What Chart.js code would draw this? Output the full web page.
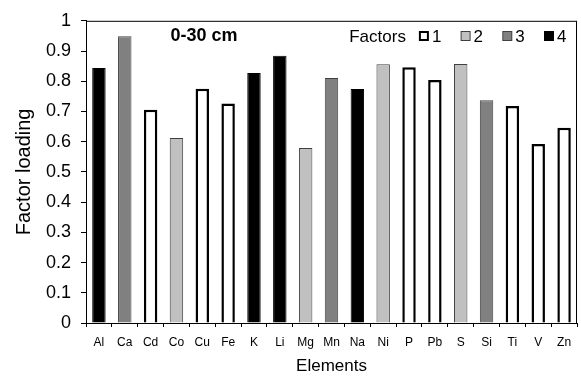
<!DOCTYPE html>
<html>
<head>
<meta charset="utf-8">
<script src="https://cdn.jsdelivr.net/npm/chart.js@4"></script>
<style>
  html, body { margin: 0; padding: 0; background: #fff; }
  #wrap { width: 581px; height: 382px; }
</style>
</head>
<body>
<div id="wrap"><canvas id="loadingChart"></canvas></div>
<script>
const elements = ['Al','Ca','Cd','Co','Cu','Fe','K','Li','Mg','Mn','Na','Ni','P','Pb','S','Si','Ti','V','Zn'];
const loadings = [0.844,0.949,0.706,0.612,0.775,0.726,0.827,0.884,0.579,0.811,0.774,0.856,0.846,0.804,0.857,0.737,0.718,0.592,0.646];
const factors  = [4,3,1,2,1,1,4,4,2,3,4,2,1,1,2,3,1,1,1];
const factorNames = ['1','2','3','4'];
const fills   = ['#ffffff','#c0c0c0','#808080','#000000'];
const borders = ['#000000','#404040','#404040','#000000'];
const widths  = [2.5,1,1,1];

Chart.defaults.font.family = '"Liberation Sans", Arial, sans-serif';
Chart.defaults.color = '#000';

// one dataset per factor, each element only filled in its own factor
const datasets = factorNames.map((name, k) => ({
    label: name,
    data: loadings.map((v, i) => factors[i] === k + 1 ? v : null),
    backgroundColor: fills[k],
    borderColor: borders[k],
    borderWidth: widths[k],
    barPercentage: 0.52,
    categoryPercentage: 1
}));

// frame, depth label and the inline "Factors" legend inside the plot
const frame = {
    id: 'frame',
    afterDraw(chart) {
        const {ctx, chartArea: a} = chart;
        ctx.save();
        ctx.strokeStyle = '#000';
        ctx.lineWidth = 1;
        ctx.strokeRect(a.left + 0.5, a.top + 0.5, a.right - a.left - 1, a.bottom - a.top);

        ctx.fillStyle = '#000';
        ctx.font = 'bold 18px "Liberation Sans", Arial';
        ctx.textAlign = 'center';
        ctx.textBaseline = 'middle';
        ctx.fillText('0-30 cm', 204, 36);

        ctx.font = '17px "Liberation Sans", Arial';
        const step = 41.7;
        const y = 36;
        const first = a.right - 33 - step * (chart.data.datasets.length - 1);
        chart.data.datasets.forEach((ds, k) => {
            const x = first + step * k;
            const bw = ds.borderWidth > 1 ? 2 : 1;
            ctx.fillStyle = ds.borderColor;
            ctx.fillRect(x, y - 5, 10, 10);
            ctx.fillStyle = ds.backgroundColor;
            ctx.fillRect(x + bw, y - 5 + bw, 10 - 2 * bw, 10 - 2 * bw);
            ctx.fillStyle = '#000';
            ctx.textAlign = 'left';
            ctx.fillText(ds.label, x + 13, y + 1);
        });
        ctx.textAlign = 'right';
        ctx.fillText('Factors', first - 13, y + 1);
        ctx.restore();
    }
};

new Chart(document.getElementById('loadingChart'), {
    type: 'bar',
    data: { labels: elements, datasets: datasets },
    options: {
        responsive: true,
        maintainAspectRatio: false,
        animation: false,
        layout: { padding: { top: 18, right: 4, left: 0, bottom: 0 } },
        datasets: { bar: { grouped: false, skipNull: true } },
        plugins: {
            tooltip: { enabled: false },
            legend: { display: false }
        },
        scales: {
            x: {
                afterFit(s) { s.height = 59; },
                grid: { display: true, drawOnChartArea: false, offset: true, tickLength: 4, color: '#000' },
                border: { display: true, color: '#000' },
                ticks: { font: { size: 12 }, padding: 8, maxRotation: 0, autoSkip: false },
                title: { display: true, text: 'Elements', font: { size: 17 }, padding: { top: 5, bottom: 5 } }
            },
            y: {
                min: 0,
                max: 1,
                afterFit(s) { s.width = 86; },
                grid: { display: true, drawOnChartArea: false, tickLength: 5, color: '#000' },
                border: { display: true, color: '#000' },
                ticks: {
                    stepSize: 0.1,
                    font: { size: 18 },
                    padding: 10,
                    callback: v => Number(v.toFixed(1)).toString()
                },
                title: { display: true, text: 'Factor loading', font: { size: 20 }, padding: { top: 12, bottom: 12 } }
            }
        }
    },
    plugins: [frame]
});
</script>
</body>
</html>
